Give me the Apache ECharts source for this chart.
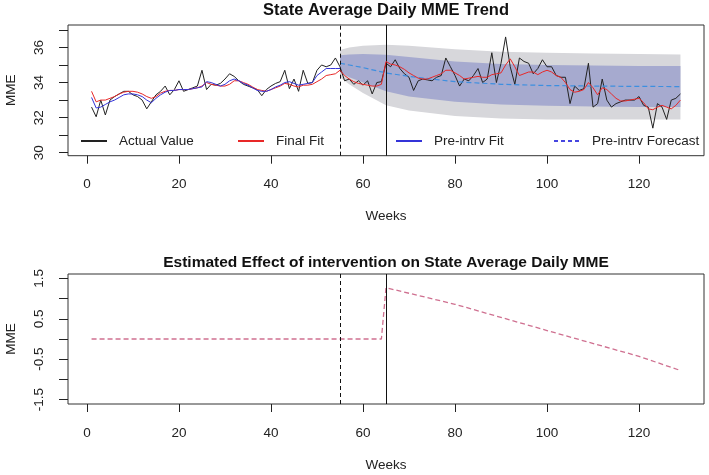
<!DOCTYPE html>
<html>
<head>
<meta charset="utf-8">
<script src="https://cdn.jsdelivr.net/npm/echarts@6/dist/echarts.min.js"></script>
<style>
  html, body { margin: 0; padding: 0; background: #fff; }
  #chart { width: 709px; height: 475px; }
</style>
</head>
<body>
<div id="chart"></div>
<script>
// weeks 1..129
var weeks = [];
for (var i = 1; i <= 129; i++) weeks.push(i);

var actualValue = [
  32.6, 32.05, 33.0, 32.15, 33.0, 33.2, 33.35, 33.5, 33.5, 33.3,
  33.2, 33.0, 32.5, 32.9, 33.3, 33.5, 33.8, 33.3, 33.6, 34.1,
  33.5, 33.6, 33.7, 33.8, 34.7, 33.6, 33.9, 33.85, 33.95, 34.2,
  34.5, 34.35, 34.1, 33.9, 33.8, 33.7, 33.6, 33.25, 33.6, 33.8,
  33.95, 34.05, 34.7, 33.65, 34.2, 33.5, 34.7, 33.95, 34.0, 34.7,
  35.0, 34.9, 35.0, 35.4, 34.9, 34.1, 34.2, 33.9, 34.1, 33.85,
  34.1, 33.35, 34.0, 34.05, 35.1, 34.9, 35.3, 34.8, 34.5, 34.3,
  33.55, 34.1, 34.2, 34.15, 34.1, 34.3, 34.4, 35.4, 34.9, 34.4,
  33.8, 34.2, 34.1, 34.4, 34.8, 34.0, 34.2, 35.7, 34.0, 35.1,
  36.6, 34.9, 33.9, 35.4, 35.2, 35.1, 34.5, 34.8, 35.3, 34.9,
  34.9, 34.4, 34.3, 34.3, 32.8, 33.8, 33.55, 33.65, 35.1, 32.6,
  32.8, 34.2, 33.0, 32.6, 32.8, 32.9, 33.0, 33.0, 33.0, 33.2,
  32.7, 32.6, 31.4, 32.8, 32.6, 31.9, 33.0, 33.1, 33.35
];

var finalFit = [
  33.5, 32.9, 33.0, 33.0, 33.1, 33.2, 33.35, 33.45, 33.5, 33.5,
  33.45, 33.35, 33.2, 33.1, 33.2, 33.4, 33.5, 33.55, 33.55, 33.6,
  33.6, 33.6, 33.65, 33.7, 33.8, 34.0, 33.9, 33.85, 33.8, 33.8,
  33.9, 34.1, 34.1, 34.0, 33.9, 33.75, 33.6, 33.55, 33.5, 33.6,
  33.7, 33.8, 33.95, 33.9, 33.8, 33.75, 33.85, 33.85, 33.9, 34.05,
  34.2, 34.4, 34.45, 34.5, 34.7, 34.4, 34.2, 34.05, 33.95, 33.9,
  33.85, 33.8, 33.8, 33.9, 35.2, 35.05, 35.0, 34.9, 34.75, 34.55,
  34.4, 34.25, 34.2, 34.2, 34.3, 34.4, 34.5, 34.7, 34.7, 34.55,
  34.4, 34.2, 34.25, 34.3, 34.35, 34.3, 34.3, 34.45, 34.5, 34.55,
  35.0, 35.35, 34.9, 34.4, 34.5, 34.6, 34.6, 34.45, 34.6, 34.7,
  34.6, 34.4, 34.3, 34.0, 33.6, 33.45, 33.5, 33.6, 34.0, 33.7,
  33.3, 33.7, 33.6, 33.35, 33.1, 32.95, 32.95, 33.0, 33.05, 33.1,
  32.85, 32.5, 32.45, 32.6, 32.7, 32.6, 32.5, 32.7, 33.0
];

// pre-intervention fit, weeks 1..55
var preFit = [
  33.15, 32.55, 32.6, 32.75, 32.9, 33.0, 33.15, 33.3, 33.35, 33.35,
  33.3, 33.2, 33.0, 32.85, 33.1, 33.3, 33.45, 33.55, 33.55, 33.6,
  33.6, 33.6, 33.65, 33.7, 33.75, 34.05, 34.0, 33.9, 33.8, 33.9,
  34.1, 34.2, 34.1, 33.95, 33.85, 33.7, 33.55, 33.5, 33.5, 33.6,
  33.75, 33.85, 34.0, 34.05, 33.95, 33.85, 33.9, 33.95, 34.0, 34.4,
  34.6, 34.8, 34.8, 34.8, 34.8
];

// forecast and its intervals
var bandWeeks = [55, 57, 60, 65, 70, 80, 90, 100, 110, 120, 129];
var forecast  = [35.1, 35.0, 34.85, 34.55, 34.35, 34.05, 33.9, 33.83, 33.8, 33.78, 33.77];
var outerHi   = [35.85, 36.0, 36.1, 36.15, 36.1, 35.9, 35.75, 35.7, 35.65, 35.62, 35.6];
var innerHi   = [35.55, 35.6, 35.62, 35.58, 35.45, 35.2, 35.05, 35.0, 34.97, 34.95, 34.95];
var innerLo   = [34.6, 34.3, 34.0, 33.5, 33.2, 32.9, 32.75, 32.68, 32.63, 32.6, 32.6];
var outerLo   = [34.3, 33.9, 33.4, 32.7, 32.4, 32.1, 31.95, 31.9, 31.9, 31.9, 31.9];

// estimated effect (bottom panel)
var effectWeeks  = [1, 64, 65, 80, 100, 120, 129];
var effectValues = [0, 0, 1.27, 0.86, 0.21, -0.43, -0.78];

var weekTicks = [0, 20, 40, 60, 80, 100, 120];
var mmeTicks = [30, 31, 32, 33, 34, 35, 36, 37];
var mmeLabels = [30, 32, 34, 36];
var effTicks = [-1.5, -1, -0.5, 0, 0.5, 1, 1.5];
var effLabels = [-1.5, -0.5, 0.5, 1.5];
var preWeek = 55, postWeek = 65;

function pairs(xs, ys) {
  return ys.map(function (y, i) { return [xs[i], y]; });
}

var bands = [
  { lo: outerLo, hi: outerHi, color: '#d7d7db' },
  { lo: innerLo, hi: innerHi, color: '#a6aacf' }
];

var font = 'Liberation Sans, Arial, sans-serif';
var ink = '#222';

function xAxisOpt(idx) {
  return {
    type: 'value', gridIndex: idx, min: -4.12, max: 134.12,
    name: 'Weeks', nameLocation: 'middle', nameGap: 54,
    nameTextStyle: { fontFamily: font, fontSize: 13.5, color: ink },
    axisLine: { show: false, onZero: false },
    splitLine: { show: false },
    axisTick: { length: 8, customValues: weekTicks, lineStyle: { color: ink } },
    axisLabel: { customValues: weekTicks, margin: 22, fontFamily: font, fontSize: 13.5, color: ink }
  };
}
function yAxisOpt(idx, min, max, ticks, labels) {
  return {
    type: 'value', gridIndex: idx, min: min, max: max,
    name: 'MME', nameLocation: 'middle', nameGap: 50, nameRotate: 90,
    nameTextStyle: { fontFamily: font, fontSize: 13.5, color: ink },
    axisLine: { show: false, onZero: false },
    splitLine: { show: false },
    axisTick: { length: 9, customValues: ticks, lineStyle: { color: ink } },
    axisLabel: { customValues: labels, rotate: 90, margin: 22, fontFamily: font, fontSize: 13.5, color: ink }
  };
}

var vLines = {
  silent: true, symbol: 'none', label: { show: false },
  data: [
    { xAxis: preWeek, lineStyle: { type: [4, 3], color: '#111', width: 1 } },
    { xAxis: postWeek, lineStyle: { type: 'solid', color: '#111', width: 1 } }
  ]
};

function lineSeries(name, color, data, extra) {
  var s = { name: name, type: 'line', xAxisIndex: 0, yAxisIndex: 0, symbol: 'none',
    itemStyle: { color: color }, lineStyle: { color: color, width: 1 }, data: data };
  for (var k in extra) s[k] = extra[k];
  return s;
}

var chart = echarts.init(document.getElementById('chart'));
chart.setOption({
  animation: false,
  backgroundColor: '#fff',
  title: [
    { text: 'State Average Daily MME Trend', left: 386, top: 2, textAlign: 'center', padding: 0,
      textStyle: { fontFamily: font, fontSize: 16.5, fontWeight: 'bold', color: '#111' } },
    { text: 'Estimated Effect of intervention on State Average Daily MME', left: 386, top: 255, textAlign: 'center', padding: 0,
      textStyle: { fontFamily: font, fontSize: 15.5, fontWeight: 'bold', color: '#111' } }
  ],
  legend: [
    { data: ['Actual Value'], left: 80 },
    { data: ['Final Fit'], left: 237 },
    { data: ['Pre-intrv Fit'], left: 395 },
    { data: [{ name: 'Pre-intrv Forecast', lineStyle: { color: '#4646e0', type: [4, 3] } }], left: 553 }
  ].map(function (l) {
    l.top = 134; l.itemWidth = 26; l.itemHeight = 14; l.padding = 0;
    l.itemStyle = { opacity: 0 };
    l.textStyle = { fontFamily: font, fontSize: 13.5, color: ink, padding: [0, 0, 0, 7] };
    return l;
  }),
  grid: [
    { left: 68, right: 5, top: 25, height: 130.7, show: true, borderColor: '#333', borderWidth: 1,
      outerBoundsMode: 'none', containLabel: false },
    { left: 68, right: 5, top: 274, height: 130, show: true, borderColor: '#333', borderWidth: 1,
      outerBoundsMode: 'none', containLabel: false }
  ],
  xAxis: [xAxisOpt(0), xAxisOpt(1)],
  yAxis: [
    yAxisOpt(0, 29.83, 37.28, mmeTicks, mmeLabels),
    yAxisOpt(1, -1.61, 1.61, effTicks, effLabels)
  ],
  series: [
    { type: 'custom', xAxisIndex: 0, yAxisIndex: 0, silent: true, z: 1,
      data: [[0], [1]],
      renderItem: function (params, api) {
        var b = bands[params.dataIndex];
        var pts = [];
        for (var j = 0; j < bandWeeks.length; j++) pts.push(api.coord([bandWeeks[j], b.hi[j]]));
        for (var j2 = bandWeeks.length - 1; j2 >= 0; j2--) pts.push(api.coord([bandWeeks[j2], b.lo[j2]]));
        return { type: 'polygon', shape: { points: pts }, style: { fill: b.color } };
      }
    },
    lineSeries('Pre-intrv Forecast', '#3d8fe0', pairs(bandWeeks, forecast),
      { lineStyle: { color: '#3d8fe0', width: 1.2, type: [5, 3] }, z: 4 }),
    lineSeries('Actual Value', '#222', pairs(weeks, actualValue), { markLine: vLines, z: 3 }),
    lineSeries('Final Fit', '#e82828', pairs(weeks, finalFit), { z: 5 }),
    lineSeries('Pre-intrv Fit', '#3434d8', pairs(weeks, preFit), { z: 5 }),
    { name: 'Effect', type: 'line', xAxisIndex: 1, yAxisIndex: 1, symbol: 'none',
      lineStyle: { color: '#cf7090', width: 1.3, type: [5, 3] }, data: pairs(effectWeeks, effectValues),
      markLine: vLines }
  ]
});
</script>
</body>
</html>
